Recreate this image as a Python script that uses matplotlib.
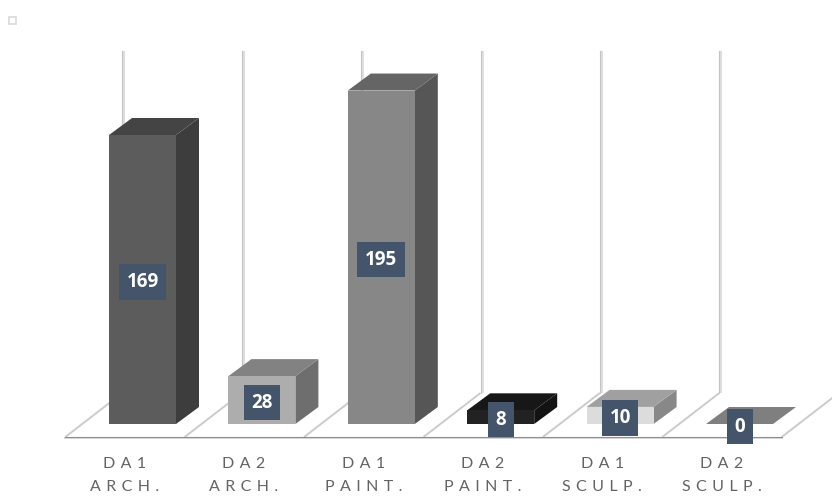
import matplotlib
matplotlib.use("Agg")
import matplotlib.pyplot as plt
from matplotlib.patches import Polygon, Rectangle

line1 = ["DA1", "DA2", "DA1", "DA2", "DA1", "DA2"]
line2 = ["ARCH.", "ARCH.", "PAINT.", "PAINT.", "SCULP.", "SCULP."]
values = [169, 28, 195, 8, 10, 0]
front_colors = ["#5c5c5c", "#adadad", "#878787", "#222222", "#dcdcdc", "#a8a8a8"]
top_colors = ["#444444", "#828282", "#656565", "#171717", "#a0a0a0", "#7f7f7f"]
side_colors = ["#3d3d3d", "#6e6e6e", "#565656", "#131313", "#888888", "#6a6a6a"]
axis_max = 200

W, H = 832, 498
STEP = 119.4      # px per category
UNIT = 1.71       # px per value unit
X0 = 142.5        # px of first bar centre
BASE = 424        # px of value 0 on bar front
FLOOR = 437       # px of front floor edge

plt.rcParams["font.family"] = ["Lato", "DejaVu Sans"]
fig = plt.figure(figsize=(W / 100, H / 100), dpi=100)
ax = fig.add_axes([0, (H - FLOOR) / H, 1, FLOOR / H])
ax.set_xlim(-X0 / STEP, (W - X0) / STEP)
ax.set_ylim(-(FLOOR - BASE) / UNIT, BASE / UNIT)
for s in ax.spines.values():
    s.set_visible(False)
ax.patch.set_alpha(0)

dx = lambda px: px / STEP
dy = lambda px: px / UNIT
half = dx(33.5)
bar_dx, bar_dy = dx(23), dy(17)
floor_left = dx(-17.5)     # front corner shift from the category edge
floor_dx, floor_dy = dx(57), dy(44)
front_y = dy(-13)
back_y = front_y + floor_dy
n = len(values)

# walls and floor
for k in range(n + 1):
    x0 = k - 0.5 + floor_left
    xb = x0 + floor_dx
    ax.add_patch(Polygon([(xb, back_y), (xb + dx(3), back_y), (xb + dx(3), back_y + axis_max),
                          (xb, back_y + axis_max)], closed=True, fc="#dedede", ec="none", zorder=1))
    ax.plot([xb, xb], [back_y, back_y + axis_max], color="#c4c4c4", lw=0.8, zorder=1.1)
    ax.plot([x0, xb], [front_y, back_y], color="#dcdcdc", lw=1.6, zorder=1.2, solid_capstyle="butt")
    ax.plot([x0, xb], [front_y, back_y], color="#bdbdbd", lw=0.5, zorder=1.3, solid_capstyle="butt")
x_a = -0.5 + floor_left
x_b = n - 0.5 + floor_left
ax.plot([x_a, x_b], [front_y - dy(1), front_y - dy(1)], color="#d9d9d9", lw=1.4, zorder=1.4, clip_on=False)
ax.plot([x_a, x_b], [front_y, front_y], color="#8f8f8f", lw=0.8, zorder=1.5, clip_on=False)

# bars
for i, v in enumerate(values):
    l, r = i - half, i + half
    z = 2 + i * 0.01
    if v > 0:
        ax.bar(i, v, width=2 * half, color=front_colors[i], zorder=z + 0.002)
        ax.add_patch(Polygon([(r, 0), (r + bar_dx, bar_dy), (r + bar_dx, v + bar_dy), (r, v)],
                             closed=True, fc=side_colors[i], ec="none", zorder=z))
    ax.add_patch(Polygon([(l, v), (r, v), (r + bar_dx, v + bar_dy), (l + bar_dx, v + bar_dy)],
                         closed=True, fc=top_colors[i], ec="none", zorder=z + 0.001))

# data labels
for i, v in enumerate(values):
    ax.text(i, v / 2, str(v), ha="center", va="center_baseline", color="white", fontsize=13.5,
            fontweight="bold", family=["Open Sans", "DejaVu Sans"], zorder=5, clip_on=False,
            bbox=dict(boxstyle="square,pad=0.41", fc="#44546a", ec="none"))

# category labels
spaced = lambda s: "\u2004".join(s)
ax.set_xticks([i - dx(18) for i in range(n)])
ax.set_xticklabels([spaced(a) + "\n" + spaced(b) for a, b in zip(line1, line2)],
                   fontsize=11.5, color="#636363", linespacing=1.78)
ax.tick_params(axis="x", length=0, pad=14.5)
ax.set_yticks([])

# small empty legend key
fig.add_artist(Rectangle((9 / W, 1 - 24 / H), 7 / W, 7 / H, transform=fig.transFigure,
                         fc="white", ec="#d9d9d9", lw=1.2))

fig.savefig("out.png", dpi=100)
